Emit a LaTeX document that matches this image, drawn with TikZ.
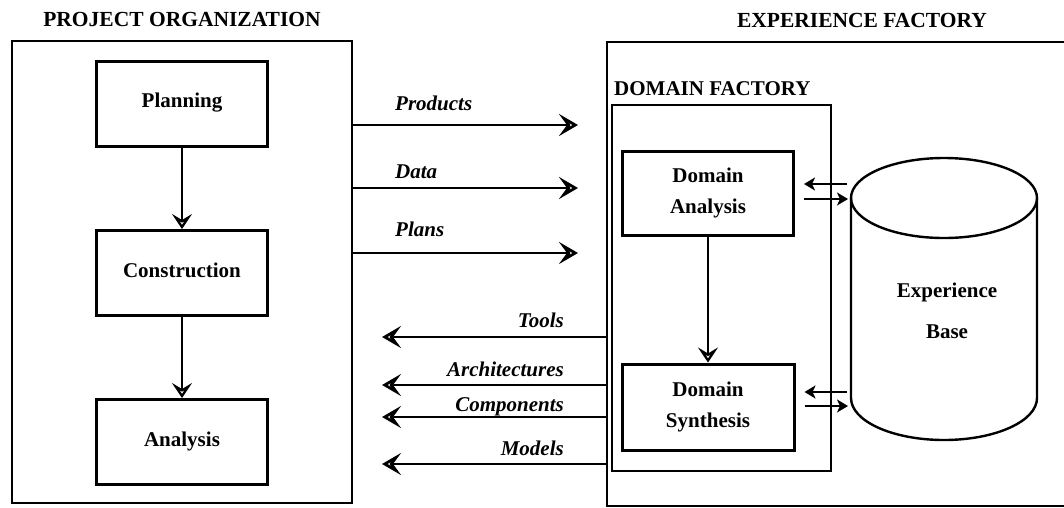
\documentclass[tikz,border=0pt]{standalone}
\usepackage{fontspec}
\setmainfont{Liberation Serif}
\usetikzlibrary{arrows.meta}
\begin{document}
\begin{tikzpicture}[x=1pt,y=-1pt,
  every node/.style={font=\fontsize{21}{24}\selectfont\bfseries},
  title/.style={font=\fontsize{21.5}{24}\selectfont\bfseries},
  lbl/.style={font=\fontsize{21}{24}\selectfont\bfseries\itshape, inner sep=0pt},
  outer/.style={draw, line width=2.8pt},
  inner/.style={draw, line width=1.8pt},
  stepbox/.style={draw, line width=3pt, minimum width=171pt, minimum height=85pt, inner sep=0pt, align=center},
  harrow/.style={line width=2.4pt, -{Stealth[open, length=19pt, width=22pt, inset=8pt, line width=3.2pt]}},
  varrow/.style={line width=2.2pt, -{Stealth[open, length=15pt, width=20pt, inset=6pt, line width=3pt]}},
  sarrow/.style={line width=2.6pt, -{Stealth[length=11pt, width=13pt, inset=3pt]}},
]
\useasboundingbox (0,0) rectangle (1064,507);

% titles
\node[title, anchor=base] (t1) at (182,26) {PROJECT ORGANIZATION};
\node[title, anchor=base] (t2) at (862,27) {EXPERIENCE FACTORY};

% project organization box
\draw[outer] (12,41) rectangle (352,503);
\coordinate (poE) at (352,270);

\node[stepbox] (plan) at (182,103.5) {\raisebox{6pt}{Planning}};
\node[stepbox] (cons) at (182,273) {\raisebox{6pt}{Construction}};
\node[stepbox] (anal) at (182,442) {\raisebox{5pt}{Analysis}};
\draw[varrow] (plan.south) -- (cons.north);
\draw[varrow] (cons.south) -- (anal.north);

% experience factory box (open at right edge)
\draw[outer] (1068,42) -- (607,42) -- (607,506) -- (1068,506);
\coordinate (efW) at (607,270);

% domain factory
\node[anchor=base west, inner sep=0pt] (dfl) at (614,95) {DOMAIN FACTORY};
\draw[inner] (612,105) rectangle (831,471);

\node[stepbox, minimum width=171pt, minimum height=84pt] (da) at (708,193) {Domain\\[7pt]Analysis};
\node[stepbox, minimum width=172pt, minimum height=86pt] (ds) at (708,407) {Domain\\[7pt]Synthesis};
\draw[varrow] (da.south) -- (ds.north);

% cylinder
\draw[line width=2.4pt] (851,198) -- (851,398) arc[start angle=180, end angle=0, x radius=93, y radius=42] -- (1037,198);
\draw[line width=2.4pt] (944,198) ellipse[x radius=93, y radius=40];
\node[align=center] (eb) at (947,311) {Experience\\[17pt]Base};

% arrows between domain factory and experience base
\coordinate (c1) at (847,184);
\coordinate (c2) at (848,199);
\coordinate (c3) at (847,392);
\coordinate (c4) at (848,406);
\draw[sarrow, shorten >=9pt] (c1) -- (da.east |- c1);
\draw[sarrow, shorten <=9pt] (da.east |- c2) -- (c2);
\draw[sarrow, shorten >=9pt] (c3) -- (ds.east |- c3);
\draw[sarrow, shorten <=9pt] (ds.east |- c4) -- (c4);

% flows from project organization to experience factory
\coordinate (pr) at (578,125);
\coordinate (da2) at (578,188);
\coordinate (pl) at (578,253);
\draw[harrow] (poE |- pr) -- (pr);
\draw[harrow] (poE |- da2) -- (da2);
\draw[harrow] (poE |- pl) -- (pl);
\node[lbl, anchor=base west] (lpr) at (395,110) {Products};
\node[lbl, anchor=base west] (lda) at (395,178) {Data};
\node[lbl, anchor=base west] (lpl) at (395,236) {Plans};

% flows from experience factory to project organization
\coordinate (to) at (382,337);
\coordinate (ar) at (382,385);
\coordinate (co) at (382,417);
\coordinate (mo) at (382,464);
\draw[harrow] (efW |- to) -- (to);
\draw[harrow] (efW |- ar) -- (ar);
\draw[harrow] (efW |- co) -- (co);
\draw[harrow] (efW |- mo) -- (mo);
\node[lbl, anchor=base east] (lto) at (564,327) {Tools};
\node[lbl, anchor=base east] (lar) at (564,376) {Architectures};
\node[lbl, anchor=base east] (lco) at (564,411) {Components};
\node[lbl, anchor=base east] (lmo) at (564,455) {Models};
\end{tikzpicture}
\end{document}
